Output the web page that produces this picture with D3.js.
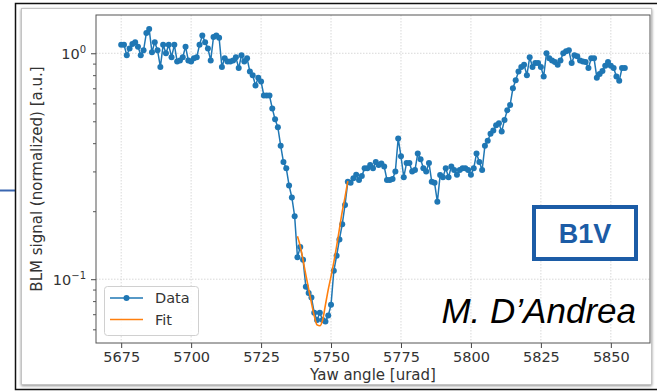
<!DOCTYPE html>
<html>
<head>
<meta charset="utf-8">
<script src="https://cdn.jsdelivr.net/npm/d3@7"></script>
<style>
    body { margin: 0; background: #fff; }
    text { font-family: "DejaVu Sans", sans-serif; }
</style>
</head>
<body>
<svg id="chart" width="657" height="391"></svg>
<script>
// yaw scan, one point per urad
var yawAngle = [
    5675, 5676, 5677, 5678, 5679, 5680, 5681, 5682, 5683, 5684,
    5685, 5686, 5687, 5688, 5689, 5690, 5691, 5692, 5693, 5694,
    5695, 5696, 5697, 5698, 5699, 5700, 5701, 5702, 5703, 5704,
    5705, 5706, 5707, 5708, 5709, 5710, 5711, 5712, 5713, 5714,
    5715, 5716, 5717, 5718, 5719, 5720, 5721, 5722, 5723, 5724,
    5725, 5726, 5727, 5728, 5729, 5730, 5731, 5732, 5733, 5734,
    5735, 5736, 5737, 5738, 5739, 5740, 5741, 5742, 5743, 5744,
    5745, 5746, 5747, 5748, 5749, 5750, 5751, 5752, 5753, 5754,
    5755, 5756, 5757, 5758, 5759, 5760, 5761, 5762, 5763, 5764,
    5765, 5766, 5767, 5768, 5769, 5770, 5771, 5772, 5773, 5774,
    5775, 5776, 5777, 5778, 5779, 5780, 5781, 5782, 5783, 5784,
    5785, 5786, 5787, 5788, 5789, 5790, 5791, 5792, 5793, 5794,
    5795, 5796, 5797, 5798, 5799, 5800, 5801, 5802, 5803, 5804,
    5805, 5806, 5807, 5808, 5809, 5810, 5811, 5812, 5813, 5814,
    5815, 5816, 5817, 5818, 5819, 5820, 5821, 5822, 5823, 5824,
    5825, 5826, 5827, 5828, 5829, 5830, 5831, 5832, 5833, 5834,
    5835, 5836, 5837, 5838, 5839, 5840, 5841, 5842, 5843, 5844,
    5845, 5846, 5847, 5848, 5849, 5850, 5851, 5852, 5853, 5854,
    5855
];

var blmSignal = [
    1.09, 1.09, 0.98, 1.05, 1.10, 1.12, 1.07, 0.98, 1.03, 1.23,
    1.28, 1.01, 1.12, 1.03, 0.87, 1.09, 1.00, 1.09, 0.96, 1.09,
    0.92, 0.93, 0.96, 1.07, 0.93, 0.92, 0.95, 0.96, 1.09, 1.20,
    1.12, 1.05, 0.93, 1.18, 1.20, 1.17, 0.87, 0.95, 0.92, 0.92,
    0.93, 0.96, 0.86, 0.98, 0.92, 0.95, 0.83, 0.80, 0.72, 0.78,
    0.75, 0.65, 0.65, 0.65, 0.57, 0.51, 0.47, 0.39, 0.33, 0.31,
    0.26, 0.23, 0.19, 0.125, 0.139, 0.122, 0.0925, 0.087, 0.083, 0.071,
    0.066, 0.071, 0.066, 0.065, 0.069, 0.077, 0.109, 0.127, 0.15, 0.175,
    0.213, 0.27, 0.267, 0.28, 0.29, 0.275, 0.286, 0.31, 0.31, 0.32,
    0.31, 0.33, 0.32, 0.325, 0.315, 0.275, 0.275, 0.278, 0.30, 0.42,
    0.35, 0.283, 0.327, 0.327, 0.30, 0.304, 0.36, 0.34, 0.31, 0.30,
    0.327, 0.27, 0.267, 0.22, 0.289, 0.283, 0.31, 0.283, 0.315, 0.304,
    0.29, 0.304, 0.31, 0.31, 0.304, 0.29, 0.31, 0.36, 0.33, 0.304,
    0.39, 0.41, 0.44, 0.455, 0.48, 0.49, 0.45, 0.507, 0.56, 0.59,
    0.70, 0.76, 0.83, 0.87, 0.89, 0.80, 0.96, 0.87, 0.905, 0.905,
    0.87, 0.79, 1.0, 0.95, 0.93, 0.915, 0.89, 0.93, 1.0, 1.02,
    1.03, 0.905, 0.98, 0.97, 0.93, 0.92, 0.915, 0.86, 0.95, 0.95,
    0.78, 0.81, 0.835, 0.88, 0.915, 0.88, 0.86, 0.79, 0.755, 0.86,
    0.86
];

// fit around the minimum
var fitAngle = [5738, 5739, 5740, 5741, 5742, 5743, 5744, 5745, 5746, 5747,
                5748, 5749, 5750, 5751, 5752, 5753, 5754, 5755, 5756];
var fitSignal = [0.155, 0.140, 0.1216, 0.1044, 0.0906, 0.0785, 0.0689, 0.0628, 0.0622, 0.066,
                 0.077, 0.090, 0.103, 0.119, 0.140, 0.167, 0.199, 0.231, 0.272];

var xTickValues = [5675, 5700, 5725, 5750, 5775, 5800, 5825, 5850];
var yMajorTicks = [0.1, 1];
var yMajorLabels = [["10", "\u22121"], ["10", "0"]];
var yMinorTicks = [0.06, 0.07, 0.08, 0.09, 0.2, 0.3, 0.4, 0.5, 0.6, 0.7, 0.8, 0.9];

var blue = "#1f77b4", orange = "#ff7f0e", slideBlue = "#1c5ca6";

var svg = d3.select("#chart");

// slide frame
svg.append("line").attr("x1", 0).attr("x2", 15).attr("y1", 190.5).attr("y2", 190.5)
    .attr("stroke", "#3a66b0").attr("stroke-width", 2);
svg.append("path").attr("d", "M657,3.5 H15.5 V389.5 H657")
    .attr("fill", "none").attr("stroke", "#111").attr("stroke-width", 1.5);

var defs = svg.append("defs");
var shadow = defs.append("filter").attr("id", "shadow")
    .attr("x", "-5%").attr("y", "-5%").attr("width", "110%").attr("height", "110%");
shadow.append("feGaussianBlur").attr("in", "SourceAlpha").attr("stdDeviation", 1.5);
shadow.append("feOffset").attr("dx", 0).attr("dy", 1).attr("result", "b");
shadow.append("feComponentTransfer").append("feFuncA").attr("type", "linear").attr("slope", 0.45);
var merge = shadow.append("feMerge");
merge.append("feMergeNode");
merge.append("feMergeNode").attr("in", "SourceGraphic");

svg.append("rect").attr("x", 21.5).attr("y", 8.5).attr("width", 630).attr("height", 376)
    .attr("fill", "#fff").attr("stroke", "#c4c4c4").attr("filter", "url(#shadow)");

// plot area
var plot = {left: 96, right: 650, top: 15, bottom: 343};

var xScale = d3.scaleLinear().domain([5666, 5864]).range([plot.left, plot.right]);
var yScale = d3.scaleLog().domain([0.0522, 1.477]).range([plot.bottom, plot.top]);

// grid
var grid = svg.append("g").attr("class", "grid")
    .attr("stroke", "#cfcfcf").attr("stroke-width", 0.8).attr("stroke-dasharray", "1.5,1.5");
grid.selectAll("line.gx").data(xTickValues).enter().append("line")
    .attr("x1", function (d) { return xScale(d); })
    .attr("x2", function (d) { return xScale(d); })
    .attr("y1", plot.top).attr("y2", plot.bottom);
grid.selectAll("line.gy").data(yMajorTicks).enter().append("line")
    .attr("y1", function (d) { return yScale(d); })
    .attr("y2", function (d) { return yScale(d); })
    .attr("x1", plot.left).attr("x2", plot.right);

// axes
var xAxisG = svg.append("g")
    .attr("transform", "translate(0," + plot.bottom + ")")
    .call(d3.axisBottom(xScale).tickValues(xTickValues).tickSize(5).tickPadding(4)
        .tickFormat(d3.format("d")));
xAxisG.select(".domain").remove();
xAxisG.selectAll("line").attr("stroke", "#444");
xAxisG.selectAll("text").attr("fill", "#333").style("font-size", "14.5px")
    .style("font-family", "DejaVu Sans");

var yAxisG = svg.append("g")
    .attr("transform", "translate(" + plot.left + ",0)")
    .call(d3.axisLeft(yScale).tickValues(yMajorTicks).tickSize(5).tickFormat(""));
yAxisG.select(".domain").remove();
yAxisG.selectAll("line").attr("stroke", "#444");

var yMinorG = svg.append("g")
    .attr("transform", "translate(" + plot.left + ",0)")
    .call(d3.axisLeft(yScale).tickValues(yMinorTicks).tickSize(3).tickFormat(""));
yMinorG.select(".domain").remove();
yMinorG.selectAll("line").attr("stroke", "#555");

// y labels with superscripts
yMajorTicks.forEach(function (v, i) {
    var t = svg.append("text")
        .attr("x", plot.left - 10).attr("y", yScale(v) + 6)
        .attr("text-anchor", "end").attr("fill", "#333").style("font-size", "14.5px");
    t.append("tspan").text(yMajorLabels[i][0]);
    t.append("tspan").attr("dy", -6).style("font-size", "10px").text(yMajorLabels[i][1]);
});

svg.append("rect")
    .attr("x", plot.left).attr("y", plot.top)
    .attr("width", plot.right - plot.left).attr("height", plot.bottom - plot.top)
    .attr("fill", "none").attr("stroke", "#555").attr("stroke-width", 1);

// axis titles
svg.append("text")
    .attr("x", (plot.left + plot.right) / 2).attr("y", 380)
    .attr("text-anchor", "middle").attr("fill", "#333").style("font-size", "15px")
    .text("Yaw angle [urad]");
svg.append("text")
    .attr("transform", "translate(42," + (plot.top + plot.bottom) / 2 + ") rotate(-90)")
    .attr("text-anchor", "middle").attr("fill", "#333").style("font-size", "15px")
    .text("BLM signal (normalized) [a.u.]");

// data
var points = yawAngle.map(function (x, i) { return {x: x, y: blmSignal[i]}; });
var fitPoints = fitAngle.map(function (x, i) { return {x: x, y: fitSignal[i]}; });

var line = d3.line()
    .x(function (d) { return xScale(d.x); })
    .y(function (d) { return yScale(d.y); });

svg.append("path").datum(points)
    .attr("d", line).attr("fill", "none")
    .attr("stroke", blue).attr("stroke-width", 1.5);
svg.append("g").selectAll("circle").data(points).enter().append("circle")
    .attr("cx", function (d) { return xScale(d.x); })
    .attr("cy", function (d) { return yScale(d.y); })
    .attr("r", 3).attr("fill", blue);

svg.append("path").datum(fitPoints)
    .attr("d", line.curve(d3.curveMonotoneX)).attr("fill", "none")
    .attr("stroke", orange).attr("stroke-width", 1.6);

// legend
var legend = svg.append("g");
legend.append("rect").attr("x", 104.5).attr("y", 286.5).attr("width", 94).attr("height", 49)
    .attr("rx", 3).attr("fill", "#fff").attr("fill-opacity", 0.85).attr("stroke", "#d0d0d0");
legend.append("line").attr("x1", 110).attr("x2", 143).attr("y1", 298).attr("y2", 298)
    .attr("stroke", blue).attr("stroke-width", 1.5);
legend.append("circle").attr("cx", 126.5).attr("cy", 298).attr("r", 3).attr("fill", blue);
legend.append("line").attr("x1", 110).attr("x2", 143).attr("y1", 319.5).attr("y2", 319.5)
    .attr("stroke", orange).attr("stroke-width", 1.6);
legend.append("text").attr("x", 155).attr("y", 303).attr("fill", "#333")
    .style("font-size", "14.5px").text("Data");
legend.append("text").attr("x", 155).attr("y", 324.5).attr("fill", "#333")
    .style("font-size", "14.5px").text("Fit");

// slide annotations
svg.append("rect").attr("x", 534).attr("y", 207).attr("width", 102).attr("height", 52)
    .attr("fill", "#fff").attr("stroke", slideBlue).attr("stroke-width", 4);
svg.append("text").attr("x", 585).attr("y", 243).attr("text-anchor", "middle")
    .attr("fill", slideBlue).style("font-weight", "bold").style("font-size", "27px")
    .style("font-family", "Liberation Sans, Arial, sans-serif").text("B1V");
svg.append("text").attr("x", 636).attr("y", 323).attr("text-anchor", "end")
    .attr("fill", "#000").style("font-style", "italic").style("font-size", "35px")
    .style("font-family", "Liberation Sans, Arial, sans-serif").text("M. D\u2019Andrea");
</script>
</body>
</html>
